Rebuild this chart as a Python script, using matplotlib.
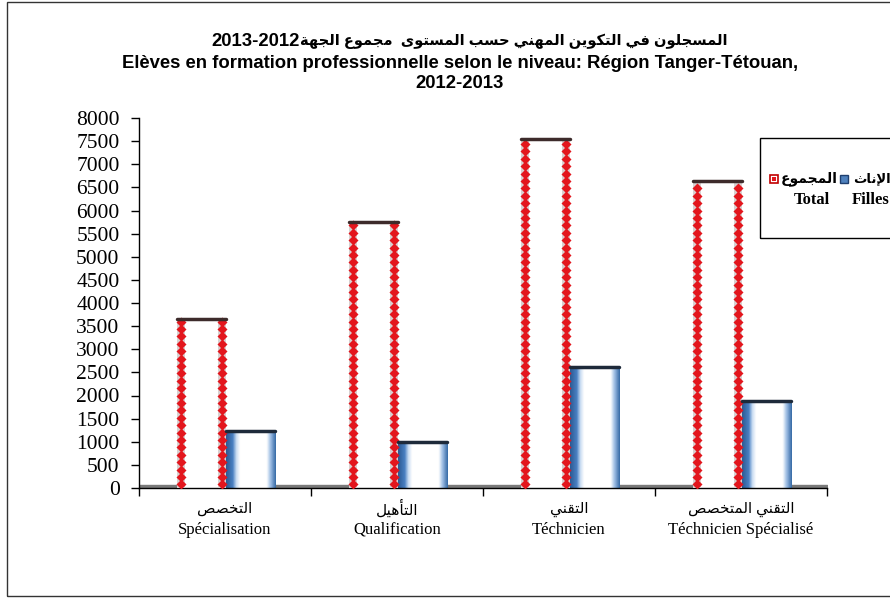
import numpy as np
import matplotlib
matplotlib.use("Agg")
import matplotlib.pyplot as plt
from matplotlib.patches import Rectangle
from matplotlib.colors import LinearSegmentedColormap
from matplotlib.transforms import blended_transform_factory

# --- data ---
categories_ar = ['التخصص', 'التأهيل', 'التقني', 'التقني المتخصص']
categories_fr = ['Spécialisation', 'Qualification', 'Téchnicien', 'Téchnicien Spécialisé']
total = [3650, 5760, 7540, 6640]
filles = [1240, 990, 2610, 1890]
yticks = np.arange(0, 8001, 500)

title_ar = 'المسجلون في التكوين المهني حسب المستوى  مجموع الجهة'
title_year = '2013-2012'
title_fr = ['Elèves en formation professionnelle selon le niveau: Région Tanger-Tétouan,',
            '2012-2013']
legend_ar = ['المجموع', 'الإناث']
legend_fr = ['Total', 'Filles']

# --- minimal arabic shaping (matplotlib has no bidi/joining support) ---
_base = {'ء': 0xFE80, 'آ': 0xFE81, 'أ': 0xFE83, 'ؤ': 0xFE85, 'إ': 0xFE87, 'ئ': 0xFE89,
         'ا': 0xFE8D, 'ب': 0xFE8F, 'ة': 0xFE93, 'ت': 0xFE95, 'ث': 0xFE99, 'ج': 0xFE9D,
         'ح': 0xFEA1, 'خ': 0xFEA5, 'د': 0xFEA9, 'ذ': 0xFEAB, 'ر': 0xFEAD, 'ز': 0xFEAF,
         'س': 0xFEB1, 'ش': 0xFEB5, 'ص': 0xFEB9, 'ض': 0xFEBD, 'ط': 0xFEC1, 'ظ': 0xFEC5,
         'ع': 0xFEC9, 'غ': 0xFECD, 'ف': 0xFED1, 'ق': 0xFED5, 'ك': 0xFED9, 'ل': 0xFEDD,
         'م': 0xFEE1, 'ن': 0xFEE5, 'ه': 0xFEE9, 'و': 0xFEED, 'ى': 0xFEEF, 'ي': 0xFEF1}
_right_only = set('آأؤإادذرزوةى')
_lamalef = {'آ': 0xFEF5, 'أ': 0xFEF7, 'إ': 0xFEF9, 'ا': 0xFEFB}


def shape(text):
    toks = []
    i = 0
    while i < len(text):
        c = text[i]
        if c == 'ل' and i + 1 < len(text) and text[i + 1] in _lamalef:
            toks.append(('LA', text[i + 1]))
            i += 2
        else:
            toks.append(c)
            i += 1

    def joins_next(t):
        return isinstance(t, str) and t in _base and t not in _right_only and t != 'ء'

    def joinable(t):
        return isinstance(t, tuple) or (t in _base and t != 'ء')

    out = []
    for k, t in enumerate(toks):
        prev = toks[k - 1] if k > 0 else None
        nxt = toks[k + 1] if k + 1 < len(toks) else None
        jp = prev is not None and joins_next(prev)
        if isinstance(t, tuple):
            out.append(chr(_lamalef[t[1]] + (1 if jp else 0)))
            continue
        if t not in _base:
            out.append(t)
            continue
        if t == 'ء':
            out.append(chr(_base[t]))
            continue
        jn = nxt is not None and joinable(nxt) and joins_next(t)
        b = _base[t]
        if jp and jn:
            out.append(chr(b + 3))
        elif jp:
            out.append(chr(b + 1))
        elif jn:
            out.append(chr(b + 2))
        else:
            out.append(chr(b))
    return ''.join(out)[::-1]


SANS = ['Liberation Sans', 'DejaVu Sans']
SERIF = ['Liberation Serif', 'DejaVu Sans']

W, H = 890, 598
fig = plt.figure(figsize=(W / 100, H / 100), dpi=100)
ax = fig.add_axes([139 / W, 1 - 488 / H, (827 - 139) / W, (488 - 118) / H])

x = np.arange(len(categories_fr))
bw = 0.285
off_t, off_f = -0.135, 0.15
strip = 0.047

blue_cmap = LinearSegmentedColormap.from_list('cyl', [
    (0.0, '#2d5b94'), (0.13, '#4a80c2'), (0.2, '#c9dcf2'), (0.28, '#ffffff'),
    (0.82, '#ffffff'), (0.9, '#9dbde3'), (1.0, '#3a6da8')])
grad = np.linspace(0, 1, 64).reshape(1, -1)

for i in range(len(x)):
    # Total : white cylinder with red diamond seams
    xl = x[i] + off_t - bw / 2
    ax.bar(xl, total[i], width=bw, align='edge', color='white', zorder=2)
    for sx in (xl, xl + bw - strip):
        ax.bar(sx, total[i], width=strip, align='edge', color='#d8d0d0', zorder=3)
        ys = np.arange(80, total[i] - 40, 160)
        ax.plot(np.full_like(ys, sx + strip / 2, dtype=float), ys, 'D',
                color='#e3161d', ms=4.6, mec='none', zorder=4)
    ax.plot([xl, xl + bw], [total[i], total[i]], color='#3d2b2b', lw=2.5,
            solid_capstyle='round', zorder=5)

    # Filles : blue shaded cylinder
    xf = x[i] + off_f - bw / 2
    ax.imshow(grad, cmap=blue_cmap, extent=[xf, xf + bw, 0, filles[i]],
              aspect='auto', zorder=2, interpolation='bilinear')
    ax.plot([xf, xf + bw], [filles[i], filles[i]], color='#1e2a3a', lw=2.5,
            solid_capstyle='round', zorder=5)

# floor
ax.fill_between([-0.5, 3.5], 0, 55, color='#7a7a7a', zorder=1)

ax.set_xlim(-0.5, 3.5)
ax.set_ylim(0, 8000)
ax.set_yticks(yticks)
ax.set_yticklabels([str(v) for v in yticks], family=SERIF, fontsize=15.5)
ax.tick_params(axis='y', length=6, width=1, pad=8)

ax.set_xticks(np.arange(-0.5, 3.6, 1))
ax.set_xticklabels([])
ax.tick_params(axis='x', which='major', length=6, width=1)

# two-line category labels (arabic over french)
lab_tr = blended_transform_factory(ax.transData, fig.transFigure)
for xi, a, f in zip(x, categories_ar, categories_fr):
    ax.text(xi, 1 - 509 / H, shape(a), transform=lab_tr, ha='center', va='center',
            family=SERIF, fontsize=11)
    ax.text(xi, 1 - 530 / H, f, transform=lab_tr, ha='center', va='center',
            family=SERIF, fontsize=12)

for s in ('top', 'right'):
    ax.spines[s].set_visible(False)
for s in ('left', 'bottom'):
    ax.spines[s].set_color('black')
    ax.spines[s].set_linewidth(1)

# titles: year drawn in latin size, arabic part next to it
fig.text(300 / W, 1 - 41 / H, title_year, ha='right', va='center',
         family=SANS, fontweight='bold', fontsize=13.3)
fig.text(300 / W, 1 - 41 / H, shape(title_ar), ha='left', va='center',
         family=SANS, fontweight='bold', fontsize=10.5)
fig.text(460 / W, 1 - 63 / H, title_fr[0], ha='center', va='center',
         family=SANS, fontweight='bold', fontsize=13.3)
fig.text(460 / W, 1 - 84 / H, title_fr[1], ha='center', va='center',
         family=SANS, fontweight='bold', fontsize=13.3)

# legend box (runs off the right edge like the reference)
fig.patches.append(Rectangle((760 / W, 1 - 238 / H), 200 / W, 100 / H, fill=False,
                             ec='black', lw=1, transform=fig.transFigure))
fig.patches.append(Rectangle((770 / W, 1 - 183 / H), 8 / W, 8 / H, fc='white',
                             ec='#c00000', lw=1.2, transform=fig.transFigure))
fig.patches.append(Rectangle((772 / W, 1 - 181 / H), 4 / W, 4 / H, fc='#e3161d',
                             ec='none', transform=fig.transFigure))
fig.patches.append(Rectangle((840 / W, 1 - 183 / H), 8 / W, 8 / H, fc='#4f81bd',
                             ec='#1f3f6f', lw=1, transform=fig.transFigure))
fig.text(781 / W, 1 - 179 / H, shape(legend_ar[0]), ha='left', va='center',
         family=SERIF, fontweight='bold', fontsize=10)
fig.text(853 / W, 1 - 179 / H, shape(legend_ar[1]), ha='left', va='center',
         family=SERIF, fontweight='bold', fontsize=9.5)
fig.text(812 / W, 1 - 200 / H, legend_fr[0], ha='center', va='center',
         family=SERIF, fontweight='bold', fontsize=12)
fig.text(852 / W, 1 - 200 / H, legend_fr[1], ha='left', va='center',
         family=SERIF, fontweight='bold', fontsize=12)

# outer chart border
fig.patches.append(Rectangle((7 / W, 2 / H), 900 / W, 594 / H, fill=False,
                             ec='#333333', lw=1, transform=fig.transFigure))

fig.savefig('out.png', dpi=100)
